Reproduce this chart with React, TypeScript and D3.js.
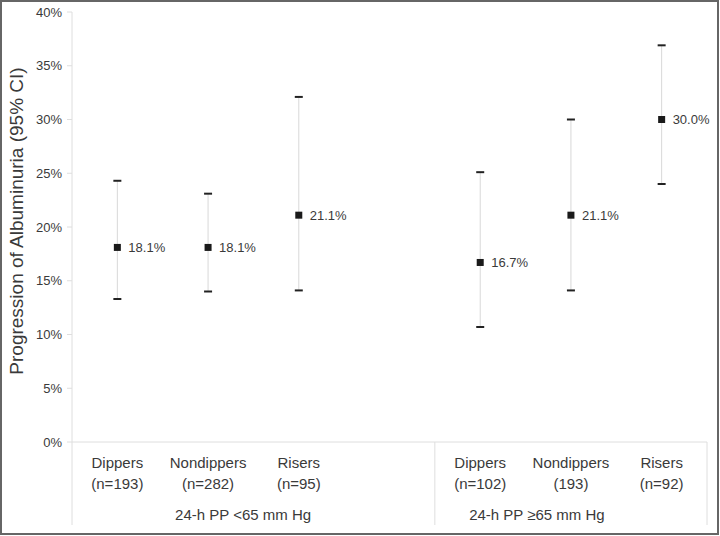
import React from "react";
import * as d3 from "d3";

const groupLabels = ["24-h PP <65 mm Hg", "24-h PP ≥65 mm Hg"];
const categories = ["Dippers", "Nondippers", "Risers", "Dippers", "Nondippers", "Risers"];
const counts = ["(n=193)", "(n=282)", "(n=95)", "(n=102)", "(193)", "(n=92)"];
const slots = ["s0", "s1", "s2", "gap", "s4", "s5", "s6"];
const pointSlots = ["s0", "s1", "s2", "s4", "s5", "s6"];
const means = [18.1, 18.1, 21.1, 16.7, 21.1, 30.0];
const lower = [13.3, 14.0, 14.1, 10.7, 14.1, 24.0];
const upper = [24.3, 23.1, 32.1, 25.1, 30.0, 36.9];
const yTicks = [0, 5, 10, 15, 20, 25, 30, 35, 40];

const W = 720;
const H = 536;
const FONT = "'Liberation Sans', Arial, sans-serif";

export default function App() {
  const x = d3.scaleBand<string>().domain(slots).range([72, 707]).padding(0);
  const y = d3.scaleLinear().domain([0, 40]).range([442, 12]);
  const cx = (s: string) => (x(s) as number) + x.bandwidth() / 2;
  const sepX = x("s4") as number;
  const bottom = 525;
  const textColor = "#3a3a3a";
  const lineColor = "#dedede";

  return (
    <svg width={W} height={H} style={{ position: "absolute", left: 0, top: 0, background: "#fff" }}>
      <rect x={1} y={1} width={W - 3} height={H - 3} fill="#fff" stroke="#666" strokeWidth={2} />
      {/* axis lines */}
      <line x1={72} x2={72} y1={y(40)} y2={bottom} stroke={lineColor} strokeWidth={1} />
      <line x1={72} x2={707} y1={y(0)} y2={y(0)} stroke={lineColor} strokeWidth={1} />
      <line x1={sepX} x2={sepX} y1={y(0)} y2={bottom} stroke={lineColor} strokeWidth={1} />
      <line x1={707} x2={707} y1={y(0)} y2={bottom} stroke={lineColor} strokeWidth={1} />
      {yTicks.map((t) => (
        <g key={t}>
          <line x1={67} x2={72} y1={y(t)} y2={y(t)} stroke={lineColor} />
          <text x={62} y={y(t) + 4.5} textAnchor="end" fontSize={13} fontFamily={FONT} fill={textColor}>
            {t + "%"}
          </text>
        </g>
      ))}
      <text
        transform={`translate(23,${(67 + 375) / 2}) rotate(-90)`}
        textAnchor="middle"
        fontSize={19}
        fontFamily={FONT}
        fill={textColor}
      >
        Progression of Albuminuria (95% CI)
      </text>
      {/* error bars */}
      {pointSlots.map((s, i) => {
        const px = cx(s);
        return (
          <g key={s}>
            <line x1={px} x2={px} y1={y(upper[i])} y2={y(lower[i])} stroke="#d8d8d8" strokeWidth={1} />
            <line x1={px - 4} x2={px + 4} y1={y(upper[i])} y2={y(upper[i])} stroke="#222" strokeWidth={2} />
            <line x1={px - 4} x2={px + 4} y1={y(lower[i])} y2={y(lower[i])} stroke="#222" strokeWidth={2} />
            <rect x={px - 3.5} y={y(means[i]) - 3.5} width={7} height={7} fill="#1a1a1a" />
            <text x={px + 11} y={y(means[i]) + 4.5} fontSize={13} fontFamily={FONT} fill={textColor}>
              {means[i].toFixed(1) + "%"}
            </text>
            <text x={px} y={468} textAnchor="middle" fontSize={15} fontFamily={FONT} fill={textColor}>
              {categories[i]}
            </text>
            <text x={px} y={489} textAnchor="middle" fontSize={15} fontFamily={FONT} fill={textColor}>
              {counts[i]}
            </text>
          </g>
        );
      })}
      <text x={cx("s1") + 35} y={520} textAnchor="middle" fontSize={15} fontFamily={FONT} fill={textColor}>
        {groupLabels[0]}
      </text>
      <text x={cx("s5") - 34} y={520} textAnchor="middle" fontSize={15} fontFamily={FONT} fill={textColor}>
        {groupLabels[1]}
      </text>
    </svg>
  );
}
